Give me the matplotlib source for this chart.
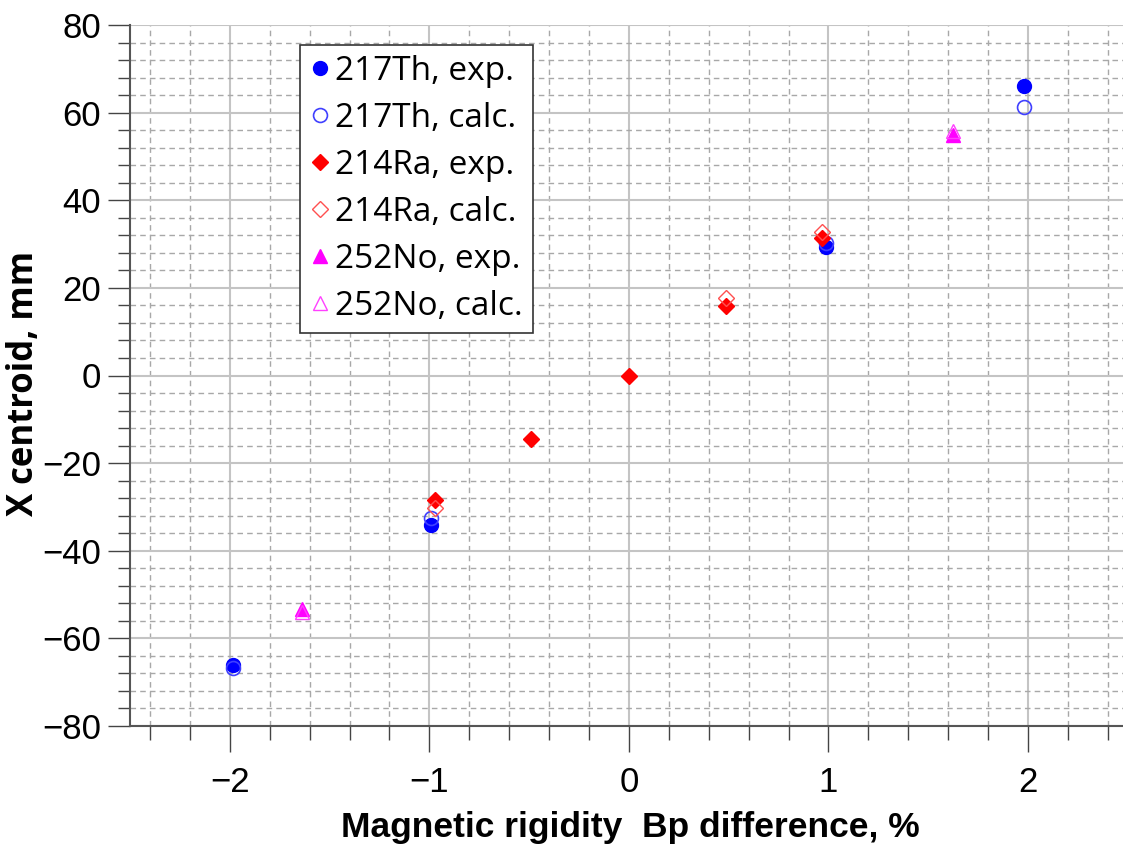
import matplotlib
matplotlib.use("Agg")
import matplotlib.pyplot as plt
from matplotlib.ticker import MultipleLocator

# data
th_exp_x = [-1.985, -0.99, 0.99, 1.98]
th_exp_y = [-66.0, -34.2, 29.3, 66.0]
th_calc_x = [-1.985, -0.99, 0.99, 1.98]
th_calc_y = [-66.7, -32.6, 30.3, 61.2]

ra_exp_x = [-0.97, -0.49, 0.0, 0.485, 0.97]
ra_exp_y = [-28.5, -14.6, 0.0, 15.8, 31.3]
ra_calc_x = [-0.97, 0.485, 0.97]
ra_calc_y = [-30.3, 17.6, 32.7]

no_exp_x = [-1.64, 1.625]
no_exp_y = [-53.3, 55.0]
no_calc_x = [-1.64, 1.625]
no_calc_y = [-53.9, 55.7]

narrow = ["Liberation Sans", "DejaVu Sans"]
wide = ["Open Sans", "DejaVu Sans"]

fig = plt.figure(figsize=(11.23, 8.5), dpi=100)
ax = fig.add_axes([130 / 1123, 124 / 850, 1 - 130 / 1123, 701 / 850])

ax.plot(th_exp_x, th_exp_y, "o", color="#0000ff", ms=10, ls="none",
        label="217Th, exp.", zorder=3)
ax.plot(th_calc_x, th_calc_y, "o", mfc="none", mec="#4040ff", mew=1.2, ms=10,
        ls="none", label="217Th, calc.", zorder=3)
ax.plot(ra_exp_x, ra_exp_y, "D", color="#ff0000", ms=8, ls="none",
        label="214Ra, exp.", zorder=3)
ax.plot(ra_calc_x, ra_calc_y, "D", mfc="none", mec="#ff5050", mew=1.0, ms=8,
        ls="none", label="214Ra, calc.", zorder=3)
ax.plot(no_exp_x, no_exp_y, "^", color="#ff00ff", ms=10, ls="none",
        label="252No, exp.", zorder=3)
ax.plot(no_calc_x, no_calc_y, "^", mfc="none", mec="#ff40ff", mew=1.0, ms=10,
        ls="none", label="252No, calc.", zorder=3)

ax.set_xlim(-2.5, 2.476)
ax.set_ylim(-80, 80)
ax.xaxis.set_major_locator(MultipleLocator(1))
ax.xaxis.set_minor_locator(MultipleLocator(0.2))
ax.yaxis.set_major_locator(MultipleLocator(20))
ax.yaxis.set_minor_locator(MultipleLocator(4))

ax.grid(which="major", color="#c4c4c4", lw=1.5, ls="-", zorder=0)
ax.grid(which="minor", color="#a8a8a8", lw=1.0, ls=(0, (4, 3)), zorder=0)
ax.set_axisbelow(True)

for s in ("top", "right"):
    ax.spines[s].set_visible(False)
for s in ("left", "bottom"):
    ax.spines[s].set_color("#555555")
    ax.spines[s].set_linewidth(1.5)

ax.tick_params(axis="x", which="major", direction="out", length=19, width=1,
               color="#444444", pad=10, labelsize=25)
ax.tick_params(axis="x", which="minor", direction="out", length=10, width=1,
               color="#444444")
ax.tick_params(axis="y", which="major", direction="out", length=16, width=1,
               color="#444444", pad=5, labelsize=25)
ax.tick_params(axis="y", which="minor", direction="out", length=9, width=1,
               color="#444444")
for lab in ax.get_xticklabels() + ax.get_yticklabels():
    lab.set_family(narrow)

ax.set_xlabel("Magnetic rigidity  Bp difference, %", fontsize=25.5,
              fontweight="bold", family=narrow)
ax.xaxis.set_label_coords((630 - 130) / 993, -(828 - 726) / 701)
ax.xaxis.label.set_va("center")
ax.set_ylabel("X centroid, mm", fontsize=25, fontweight="bold", family=wide)
ax.yaxis.set_label_coords(-(130 - 24) / 993, (726 - 383) / 701)
ax.yaxis.label.set_va("center")

leg = ax.legend(loc="upper left", bbox_to_anchor=((300 - 130) / 993, 1 - 20 / 701),
                frameon=True, fancybox=False, handlelength=0.6,
                handletextpad=0.15, borderpad=0.3, labelspacing=0.42,
                borderaxespad=0, prop={"family": wide, "size": 24})
leg.get_frame().set_edgecolor("#333333")
leg.get_frame().set_linewidth(1.2)
leg.get_frame().set_alpha(1)

fig.savefig("out.png", dpi=100, facecolor="white")
